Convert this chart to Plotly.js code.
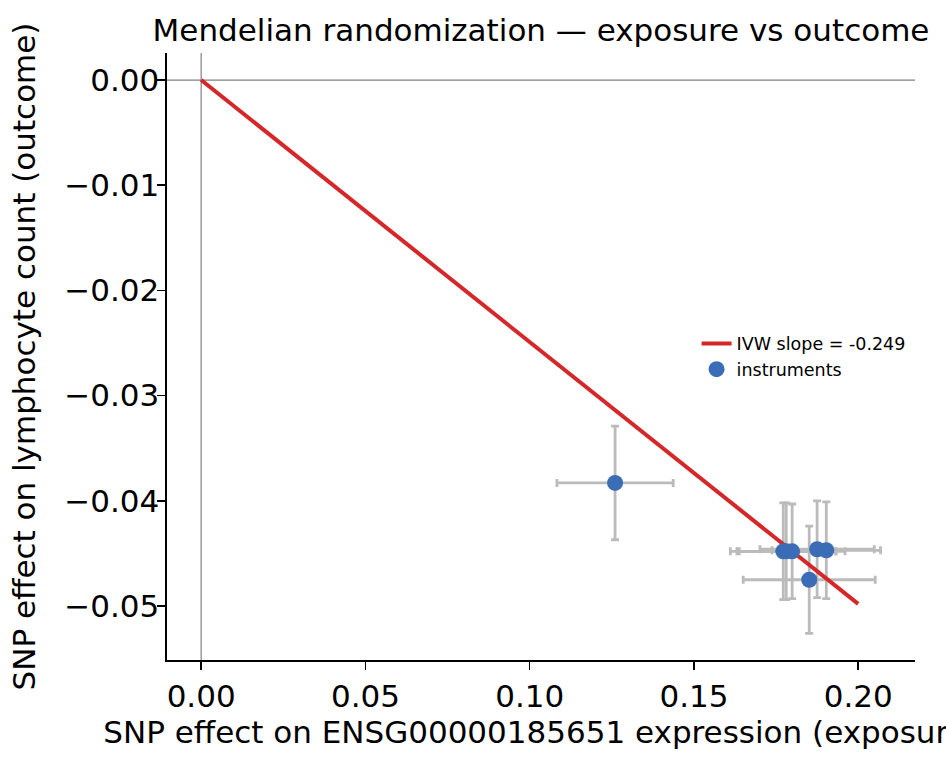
<!DOCTYPE html>
<html>
<head>
<meta charset="utf-8">
<script src="https://cdn.plot.ly/plotly-3.0.1.min.js"></script>
<style>html,body{margin:0;padding:0;background:#fff;}#chart{width:946px;height:763px;}</style>
</head>
<body>
<div id="chart"></div>
<script>
// instrument SNP effects
const snpExposure = [0.1260, 0.1772, 0.1781, 0.1799, 0.1875, 0.1903, 0.1851];
const snpOutcome  = [-0.0383, -0.0448, -0.0448, -0.0448, -0.0446, -0.0447, -0.0475];
const exposureSE  = [0.0177, 0.0161, 0.0150, 0.0161, 0.0174, 0.0165, 0.0201];
const outcomeSE   = [0.0054, 0.0046, 0.0046, 0.0045, 0.0046, 0.0046, 0.0051];
// IVW fit line
const ivwX = [0, 0.20];
const ivwY = [0, -0.0498];
const ivwLabel = 'IVW slope = -0.249';
const xTicks = [0, 0.05, 0.10, 0.15, 0.20];
const yTicks = [0, -0.01, -0.02, -0.03, -0.04, -0.05];

const font = 'DejaVu Sans, sans-serif';
const fs = 31;
const errColor = '#bbbbbb';

const traces = [
  {
    x: snpExposure, y: snpOutcome, type: 'scatter', mode: 'markers',
    marker: {color: 'rgba(0,0,0,0)', size: 1},
    error_x: {type: 'data', array: exposureSE, visible: true, color: errColor, thickness: 2.8, width: 4},
    error_y: {type: 'data', array: outcomeSE, visible: true, color: errColor, thickness: 2.8, width: 4},
    showlegend: false, hoverinfo: 'skip'
  },
  {
    x: ivwX, y: ivwY, type: 'scatter', mode: 'lines',
    line: {color: '#d62728', width: 4},
    name: ivwLabel
  },
  {
    x: snpExposure, y: snpOutcome, type: 'scatter', mode: 'markers',
    marker: {color: '#3a6db5', size: 16},
    name: 'instruments'
  }
];

const layout = {
  width: 946, height: 763,
  margin: {l: 167, r: 31, t: 53, b: 103},
  paper_bgcolor: '#fff', plot_bgcolor: '#fff',
  font: {family: font, size: fs, color: '#000'},
  title: {
    text: 'Mendelian randomization — exposure vs outcome',
    font: {family: font, size: fs, color: '#000'},
    x: 0.5, xref: 'paper', xanchor: 'center',
    y: 0.961, yref: 'container', yanchor: 'middle'
  },
  xaxis: {
    range: [-0.0104, 0.2173],
    tickvals: xTicks, tickformat: '.2f',
    ticks: 'outside', ticklen: 8, tickwidth: 1.5, tickcolor: '#000',
    showline: true, linecolor: '#000', linewidth: 1.6,
    showgrid: false, zeroline: false,
    tickfont: {family: font, size: fs, color: '#000'},
    title: {text: 'SNP effect on ENSG00000185651 expression (exposure)', font: {family: font, size: fs, color: '#000'}, standoff: 6},
    automargin: false
  },
  yaxis: {
    range: [-0.05513, 0.00257],
    tickvals: yTicks, tickformat: '.2f',
    ticks: 'outside', ticklen: 8, tickwidth: 1.5, tickcolor: '#000',
    showline: true, linecolor: '#000', linewidth: 1.6,
    showgrid: false, zeroline: false,
    ticklabelstandoff: -8,
    tickfont: {family: font, size: fs, color: '#000'},
    title: {text: 'SNP effect on lymphocyte count (outcome)', font: {family: font, size: fs, color: '#000'}, standoff: 19},
    automargin: false
  },
  shapes: [
    {type: 'line', xref: 'paper', x0: 0, x1: 1, yref: 'y', y0: 0, y1: 0, line: {color: '#808080', width: 1.2}, layer: 'below'},
    {type: 'line', yref: 'paper', y0: 0, y1: 1, xref: 'x', x0: 0, x1: 0, line: {color: '#808080', width: 1.2}, layer: 'below'}
  ],
  legend: {
    x: 0.708, y: 0.551, xanchor: 'left', yanchor: 'top',
    bgcolor: 'rgba(0,0,0,0)', borderwidth: 0,
    font: {family: font, size: 17.5, color: '#000'},
    itemwidth: 30, tracegroupgap: 0
  },
  showlegend: true
};

Plotly.newPlot('chart', traces, layout, {displayModeBar: false, staticPlot: true});
</script>
</body>
</html>
